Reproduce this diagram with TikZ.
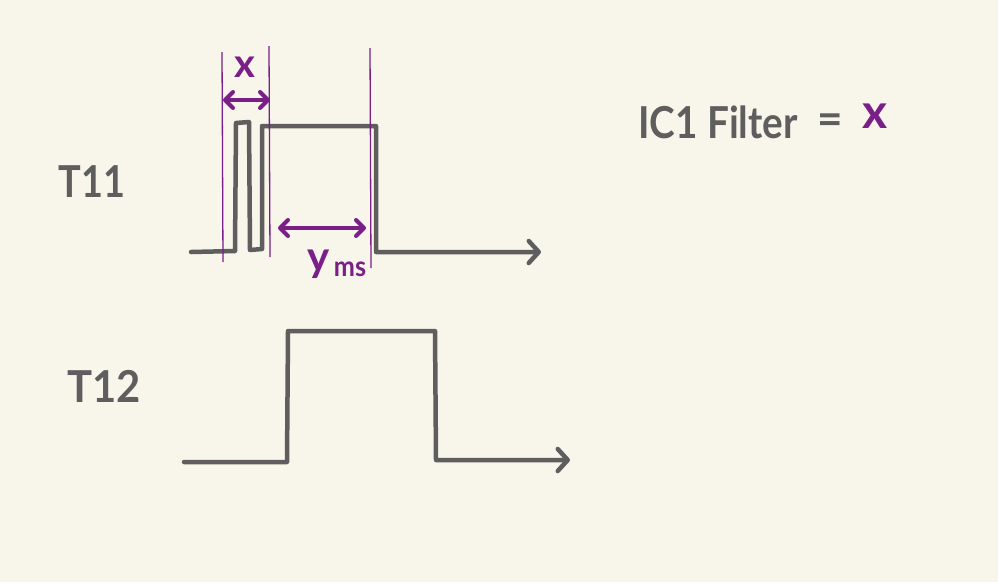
\documentclass[tikz,border=0pt]{standalone}
\usepackage{fontspec}
\setmainfont{Lato}
\usetikzlibrary{arrows.meta}
\definecolor{bg}{HTML}{F8F5EA}
\definecolor{ink}{HTML}{5E5E5E}
\definecolor{pur}{HTML}{7A1E88}
\tikzset{
  wave/.style={draw=ink, line width=4.5pt, line join=round, line cap=round},
  wavearrow/.style={wave, -{Straight Barb[length=10pt, width=22pt, round]}},
  guide/.style={draw=pur, line width=1.3pt},
  dim/.style={draw=pur, line width=4pt, line cap=round, {Straight Barb[length=8pt, width=16pt, round]}-{Straight Barb[length=8pt, width=16pt, round]}},
  lbl/.style={text=ink, font=\bfseries\fontsize{44}{48}\selectfont, inner sep=0pt},
  plbl/.style={text=pur, inner sep=0pt},
}
\begin{document}
\begin{tikzpicture}[x=1pt, y=-1pt]
\useasboundingbox[fill=bg] (0,0) rectangle (998,582);
% labels
\node[lbl] (t11) at (92,182) {\scalebox{0.86}[1]{T11}};
\node[lbl] (t12) at (104,386) {\scalebox{0.95}[1]{T12}};
\node[lbl, anchor=west] (ic) at (638,122) {\scalebox{0.88}[1]{IC1 Filter}};
\node[lbl] (eq) at (830,124) {=};
\node[plbl, font=\bfseries\fontsize{48}{52}\selectfont] (icx) at (875,116) {x};
% T11 waveform
\coordinate (a0) at (191,252);
\coordinate (a1) at (235,251);
\coordinate (a2) at (236,123);
\coordinate (a3) at (249,122);
\coordinate (a4) at (250,250);
\coordinate (a5) at (262,249);
\coordinate (a6) at (262,126);
\coordinate (a7) at (376,126);
\coordinate (a8) at (376,252);
\coordinate (a9) at (541,252);
\draw[wavearrow] (a0) -- (a1) -- (a2) -- (a3) -- (a4) -- (a5) -- (a6) -- (a7) -- (a8) -- (a9);
% guides
\coordinate (g1t) at (222,52);  \coordinate (g1b) at (223,262);
\coordinate (g2t) at (269,46);  \coordinate (g2b) at (270,257);
\coordinate (g3t) at (370,48);  \coordinate (g3b) at (371,268);
\draw[guide] (g1t) -- (g1b);
\draw[guide] (g2t) -- (g2b);
\draw[guide] (g3t) -- (g3b);
% dimensions
\coordinate (xa) at (223,100); \coordinate (xb) at (270,100);
\draw[dim] (xa) -- (xb);
\node[plbl, font=\bfseries\fontsize{40}{44}\selectfont] (xl) at (245,67) {x};
\coordinate (ya) at (278,228); \coordinate (yb) at (366,228);
\draw[dim] (ya) -- (yb);
\node[plbl, font=\bfseries\fontsize{42}{46}\selectfont, anchor=base] (yl) at (319,271) {y};
\node[plbl, font=\bfseries\fontsize{28}{30}\selectfont, anchor=base] (ms) at (350,276) {\scalebox{0.9}[1]{ms}};
% T12 waveform
\coordinate (b0) at (184,462);
\coordinate (b1) at (287,462);
\coordinate (b2) at (288,331);
\coordinate (b3) at (435,331);
\coordinate (b4) at (436,460);
\coordinate (b5) at (570,460);
\draw[wavearrow] (b0) -- (b1) -- (b2) -- (b3) -- (b4) -- (b5);
\end{tikzpicture}
\end{document}
